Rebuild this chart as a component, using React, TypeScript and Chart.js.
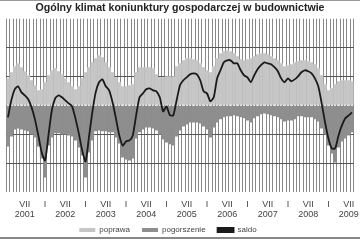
import React, { useEffect, useRef } from "react";
import { Chart, registerables } from "chart.js";

Chart.register(...registerables);

const title = "Ogólny klimat koniunktury gospodarczej w budownictwie";
const seriesNames = ["poprawa", "pogorszenie", "saldo"];
const years = ["2001", "2002", "2003", "2004", "2005", "2006", "2007", "2008", "2009"];
const monthMarks = ["I", "VII"];
const startMonth = 1; // February 2001 (0 = January)

const poprawa = [
  18.7, 22.9, 27.1, 29.1, 26.4, 23.6, 20.8, 17.4, 13.9, 10.4,
  11.1, 16, 20.8, 24.3, 25.7, 23.6, 21.5, 18.7, 16, 13.2,
  11.1, 13.2, 18.7, 22.9, 26.4, 29.8, 32.6, 34.7, 33.3, 29.8,
  26.4, 22.9, 19.4, 16, 13.2, 13.2, 13.9, 14.6, 22.9, 26.4,
  26.4, 26.4, 26.4, 25.7, 21.5, 19.4, 19.4, 20.1, 20.1, 20.1,
  27.1, 29.1, 31.2, 32.6, 32.6, 31.9, 31.2, 29.1, 26.4, 24.3,
  22.9, 27.1, 32.6, 36.1, 37.5, 38.2, 37.5, 36.1, 34, 31.9,
  31.2, 31.9, 32.6, 34, 35.4, 36.1, 36.1, 35.4, 34, 32.6,
  31.2, 29.1, 27.1, 27.8, 28.5, 29.8, 30.5, 31.2, 31.2, 30.5,
  29.8, 28.5, 25.7, 20.8, 14.6, 10.4, 11.8, 14.6, 16.7, 17.4,
  17.4, 17.4, 16.7,
];

const pogorszenie = [
  -28.5, -21.5, -16.7, -16, -16.7, -17.4, -18, -20.1, -22.2, -28.5,
  -36.8, -50, -27.8, -22.2, -19.4, -19.4, -20.1, -20.1, -20.8, -21.5,
  -24.3, -29.1, -34.7, -50, -32.6, -24.3, -18, -17.4, -18, -18,
  -18.7, -18.7, -22.2, -26.4, -36.1, -37.5, -38.2, -36.8, -22.9, -18.7,
  -16.7, -15.3, -15.3, -16, -17.4, -20.1, -23.6, -25.7, -27, -27.8,
  -21.5, -17.4, -14.6, -13.2, -11.8, -11.8, -11.8, -12.5, -14.6, -16.7,
  -22.2, -15.3, -11.8, -9.7, -8.3, -7.6, -7.6, -6.9, -7.6, -8.3,
  -9, -10.4, -11.8, -9, -7.6, -6.2, -5.6, -6.2, -6.9, -7.6,
  -8.3, -9.7, -11.1, -10.4, -10.4, -9.7, -7.6, -7.6, -8.3, -8.3,
  -8.3, -9.7, -11.1, -16, -20.1, -27.8, -33.3, -39.5, -29.1, -25,
  -22.9, -20.8, -18.7,
];

const saldo = [
  -8.3, 3.5, 11.1, 13.2, 9, 6.9, 4.2, -1.4, -9.7, -20.8,
  -32.6, -38.2, -20.8, -3.5, 4.9, 6.9, 5.6, 3.5, 1.4, -0.7,
  -9, -19.4, -31.2, -38.9, -22.2, -4.9, 9, 16, 18, 13.2,
  10.4, 2.1, -9, -20.8, -27.8, -25, -24.3, -20.8, -6.9, 5.6,
  8.3, 11.1, 11.8, 10.4, 9.7, 5.6, -4.2, -0.7, -6.9, -6.9,
  3.5, 13.9, 17.4, 19.4, 21.5, 22.2, 21.5, 17.4, 9.7, 8.3,
  2.8, 5.6, 18.7, 24.3, 29.8, 31.2, 31.2, 29.1, 29.1, 24.3,
  20.8, 19.4, 16, 20.8, 25, 27.8, 29.8, 29.1, 28.5, 26.4,
  23.6, 18.7, 16, 18.7, 16.7, 18, 20.1, 22.9, 24.3, 23.6,
  22.2, 18.7, 13.2, 1.4, -11.8, -22.9, -29.8, -29.8, -20.8, -13.9,
  -9, -6.9, -4.9,
];

const yTicks = [-60, -40, -20, 0, 20, 40, 60];

function buildLabels(n: number): (string | string[])[] {
  const out: (string | string[])[] = [];
  for (let i = 0; i < n; i++) {
    const m = (startMonth + i) % 12;
    const y = Math.floor((startMonth + i) / 12);
    if (m === 0) out.push(monthMarks[0]);
    else if (m === 6) out.push([monthMarks[1], years[y]]);
    else out.push("");
  }
  return out;
}

const FONT = "'Liberation Sans', Arial, sans-serif";

// let the x-axis labels overflow below the (compressed) axis box,
// and nudge the legend a little to the left as in the original
const layoutTweaks = {
  id: "layoutTweaks",
  afterLayout(chart: any) {
    const x = chart.scales.x;
    if (x) x.bottom = chart.height;
    const lg = chart.legend;
    if (lg) {
      lg.left -= 12;
      lg.right -= 12;
    }
  },
};

export default function App() {
  const ref = useRef<HTMLCanvasElement | null>(null);
  useEffect(() => {
    if (!ref.current) return;
    const labels = buildLabels(poprawa.length);
    const chart = new Chart(ref.current, {
      data: {
        labels,
        datasets: [
          {
            type: "bar",
            label: seriesNames[0],
            data: poprawa,
            backgroundColor: "#c6c6c6",
            barPercentage: 1.08,
            categoryPercentage: 1,
            grouped: false,
            order: 2,
          } as any,
          {
            type: "bar",
            label: seriesNames[1],
            data: pogorszenie,
            backgroundColor: "#8e8e8e",
            barPercentage: 1.08,
            categoryPercentage: 1,
            grouped: false,
            order: 2,
          } as any,
          {
            type: "line",
            label: seriesNames[2],
            data: saldo,
            borderColor: "#1a1a1a",
            backgroundColor: "#1a1a1a",
            borderWidth: 1.8,
            pointRadius: 0,
            tension: 0.2,
            order: 1,
          } as any,
        ],
      },
      plugins: [layoutTweaks],
      options: {
        responsive: false,
        animation: false,
        devicePixelRatio: 1,
        layout: { padding: { left: 0, right: 0, top: 0, bottom: -4 } },
        plugins: {
          title: {
            display: true,
            text: title,
            color: "#222",
            font: { family: FONT, size: 10.6, weight: "bold" },
            padding: { top: 2, bottom: 4 },
          },
          legend: {
            position: "bottom",
            labels: {
              boxWidth: 16,
              boxHeight: 4,
              padding: 12,
              color: "#444",
              font: { family: FONT, size: 8 },
              sort: (a: any, b: any) => a.datasetIndex - b.datasetIndex,
            },
          },
          tooltip: { enabled: false },
        },
        scales: {
          x: {
            afterFit: (scale: any) => {
              scale.height = 22;
            },
            grid: { color: "#888", lineWidth: 1, drawTicks: false, offset: true },
            border: { display: false },
            ticks: {
              autoSkip: false,
              maxRotation: 0,
              minRotation: 0,
              padding: 8,
              color: "#444",
              font: { family: FONT, size: 9, lineHeight: 1.1 },
            },
          },
          y: {
            min: yTicks[0],
            max: yTicks[yTicks.length - 1],
            afterBuildTicks: (axis: any) => {
              axis.ticks = yTicks.map((v) => ({ value: v }));
            },
            grid: {
              drawTicks: false,
              color: (ctx: any) => {
                const v = ctx.tick ? ctx.tick.value : 0;
                return v === 0 || Math.abs(v) === 60 ? "rgba(0,0,0,0)" : "#555";
              },
              lineWidth: 1,
            },
            border: { display: false },
            ticks: { display: false },
          },
        },
      },
    });
    return () => chart.destroy();
  }, []);

  return (
    <div style={{ position: "fixed", left: 0, top: 0, width: 360, height: 240, background: "#fff" }}>
      <canvas ref={ref} width={360} height={240} style={{ position: "absolute", left: 0, top: 0 }} />
      <div style={{ position: "absolute", left: 0, top: 0, width: 360, height: 1, background: "#999" }} />
      <div style={{ position: "absolute", left: 0, top: 237, width: 360, height: 2, background: "#888" }} />
    </div>
  );
}
